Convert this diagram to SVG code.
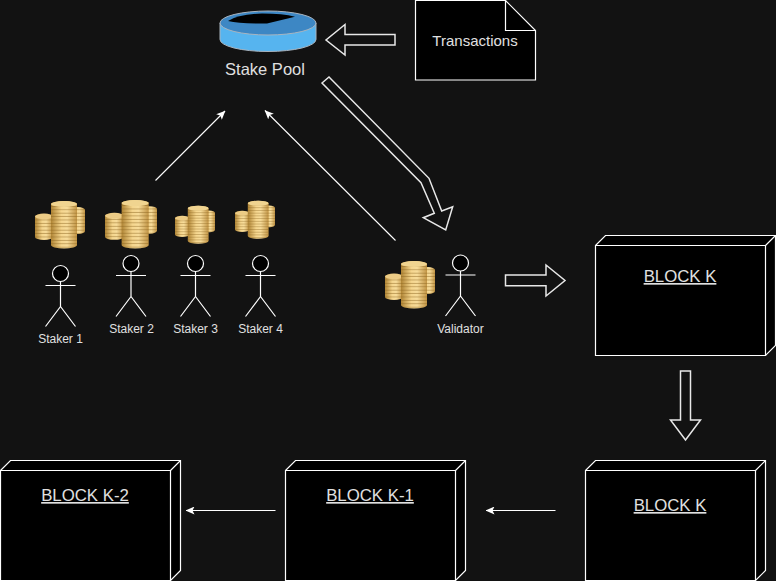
<svg xmlns="http://www.w3.org/2000/svg" xmlns:xlink="http://www.w3.org/1999/xlink" width="776" height="581" viewBox="0 0 776 581">
<style>
text{font-family:"Liberation Sans",Arial,sans-serif;fill:#e0e0e0;text-anchor:middle}
.blk{font-size:16.8px;text-decoration:underline}
.who{font-size:12px}
.box{fill:#000;stroke:#fff;stroke-width:1.2}
.ln{fill:none;stroke:#fff;stroke-width:1.2}
.big{fill:none;stroke:#e8e8e8;stroke-width:1.5}
.thin{fill:none;stroke:#fff;stroke-width:1.1;marker-end:url(#head)}
</style>
<defs>
<marker id="head" markerUnits="userSpaceOnUse" markerWidth="9" markerHeight="8" refX="8.500" refY="4" orient="auto" viewBox="0 0 9 8">
<path d="M9 4L0 0L2 4L0 8Z" fill="#fff"/>
</marker>
<linearGradient id="gold" x1="0" x2="1" y1="0" y2="0">
<stop offset="0" stop-color="#b08535"/><stop offset=".4" stop-color="#f5d68e"/><stop offset=".62" stop-color="#f7dc9a"/><stop offset="1" stop-color="#c29545"/>
</linearGradient>
<pattern id="rings" patternUnits="userSpaceOnUse" width="50" height="3.400">
<rect y="2.500" width="50" height=".9" fill="#8a6420" opacity=".5"/>
</pattern>
<symbol id="coins" viewBox="0 0 50 50" preserveAspectRatio="none">
<path d="M36 10V31A7 3 0 0 0 50 31V10A7 3 0 0 0 36 10Z" fill="url(#gold)"/>
<path d="M36 10V31A7 3 0 0 0 50 31V10A7 3 0 0 0 36 10Z" fill="url(#rings)"/>
<path d="M0 16.500V37A9 3 0 0 0 18 37V16.500A9 3 0 0 0 0 16.500Z" fill="url(#gold)"/>
<path d="M0 16.500V37A9 3 0 0 0 18 37V16.500A9 3 0 0 0 0 16.500Z" fill="url(#rings)"/>
<ellipse cx="9" cy="16.500" rx="9" ry="2.500" fill="#eccb85"/>
<path d="M16 4V45A13 3.500 0 0 0 29 48.500A13 3.500 0 0 0 42 45V4A13 3 0 0 0 16 4Z" fill="url(#gold)"/>
<path d="M16 4V45A13 3.500 0 0 0 29 48.500A13 3.500 0 0 0 42 45V4A13 3 0 0 0 16 4Z" fill="url(#rings)"/>
<ellipse cx="29" cy="4" rx="13" ry="3" fill="#f0d490"/>
</symbol>
<g id="man">
<circle cx="0" cy="0" r="8" fill="#000" stroke="#fff" stroke-width="1.2"/>
<path class="ln" d="M0 8V33M-15 12H15M0 33L-15 53M0 33L15 53"/>
</g>
<g id="cube">
<path class="box" d="M0 10L10 0H180V110L170 120H0Z"/>
<path class="ln" d="M0 10H170V120M170 10L180 0"/>
</g>
</defs>
<rect width="776" height="581" fill="#121212"/>

<g id="connectors">
<path class="big" d="M395 34.500V45H345V55L326 40L345 24.500V34.500Z"/>
<path class="big" d="M322 83L329 77L429 178.300L441.700 211L452.700 206.700L445.700 230L423.300 217.700L434.300 213.300L421 182.700Z"/>
<path class="big" d="M505.500 275H546V265L565 280.500L546 296V285.700H505.500Z"/>
<path class="big" d="M680.500 371H690.500V420H700.500L685.500 440L670.500 420H680.500Z"/>
<path class="thin" d="M155.500 180.500L225 111"/>
<path class="thin" d="M395.500 240.500L265 110.500"/>
<path class="thin" d="M555.500 510.500H486"/>
<path class="thin" d="M275.500 510.500H186"/>
</g>

<g id="stake-pool">
<path d="M220 23V39.500A48 12 0 0 0 316 39.500V23Z" fill="#56b4ef" stroke="#a9b4bf" stroke-width="1"/>
<ellipse cx="268" cy="23" rx="48" ry="12" fill="#3d87c4" stroke="#a9b4bf" stroke-width="1"/>
<path d="M228 21Q238 14 262 13.500Q283 13.500 295 16.700L267 23.500Q240 24 228 21Z" fill="#000"/>
<text x="265" y="75" font-size="16.500">Stake Pool</text>
</g>

<g id="transactions">
<path class="box" d="M415.500 0.500H505.500L535.500 30.500V80H415.500Z"/>
<path class="ln" d="M505.500 0.500V30.500H535.500"/>
<text x="475" y="46" font-size="15">Transactions</text>
</g>

<g id="staker-1">
<use xlink:href="#coins" href="#coins" x="35" y="200" width="50" height="50"/>
<use xlink:href="#man" href="#man" x="60.500" y="273.500"/>
<text class="who" x="60.500" y="343">Staker 1</text>
</g>
<g id="staker-2">
<use xlink:href="#coins" href="#coins" x="105" y="199" width="52" height="51"/>
<use xlink:href="#man" href="#man" x="131" y="263.500"/>
<text class="who" x="131.500" y="333">Staker 2</text>
</g>
<g id="staker-3">
<use xlink:href="#coins" href="#coins" x="175" y="205" width="40" height="40"/>
<use xlink:href="#man" href="#man" x="195.500" y="263.500"/>
<text class="who" x="195.500" y="333">Staker 3</text>
</g>
<g id="staker-4">
<use xlink:href="#coins" href="#coins" x="235" y="200" width="40" height="40"/>
<use xlink:href="#man" href="#man" x="260.500" y="263.500"/>
<text class="who" x="260.500" y="333">Staker 4</text>
</g>
<g id="validator">
<use xlink:href="#coins" href="#coins" x="385" y="260" width="50" height="50"/>
<use xlink:href="#man" href="#man" x="460.500" y="263"/>
<text class="who" x="460.500" y="333">Validator</text>
</g>

<g id="block-k-top">
<use xlink:href="#cube" href="#cube" x="595.500" y="235.500"/>
<text class="blk" x="680" y="282">BLOCK K</text>
</g>
<g id="block-k">
<use xlink:href="#cube" href="#cube" x="585.500" y="460.500"/>
<text class="blk" x="670" y="511">BLOCK K</text>
</g>
<g id="block-k-1">
<use xlink:href="#cube" href="#cube" x="285.500" y="460.500"/>
<text class="blk" x="370" y="501">BLOCK K-1</text>
</g>
<g id="block-k-2">
<use xlink:href="#cube" href="#cube" x="0.500" y="460.500"/>
<text class="blk" x="85" y="501">BLOCK K-2</text>
</g>
</svg>
